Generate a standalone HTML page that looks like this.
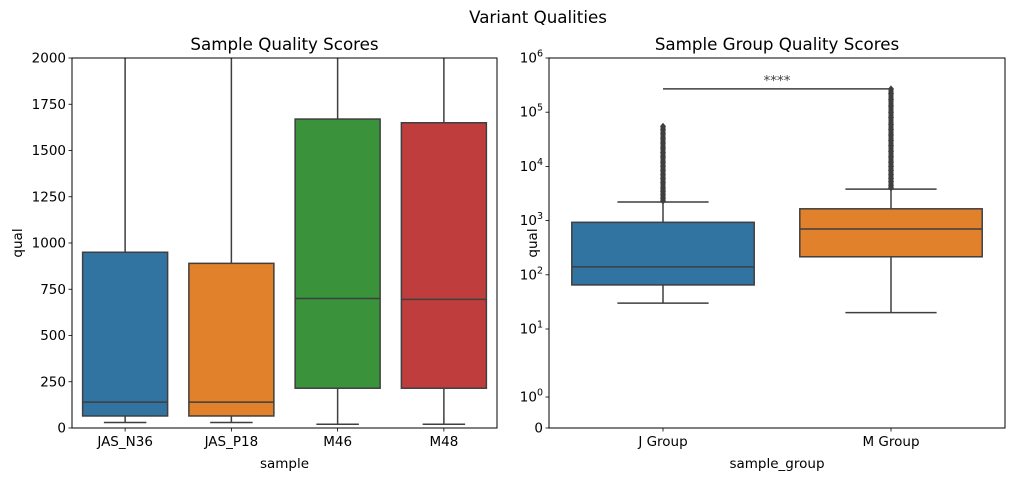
<!DOCTYPE html>
<html><head><meta charset="utf-8"><style>
body{margin:0;background:#fff;}
svg{display:block;font-family:"DejaVu Sans","Liberation Sans",sans-serif;}
</style></head><body>
<svg id="c" width="1014" height="481" viewBox="0 0 1014 481" xmlns="http://www.w3.org/2000/svg">
<rect width="1014" height="481" fill="#fff"/>
<text x="538" y="23" font-size="16.7" text-anchor="middle">Variant Qualities</text>
</svg>
<script>
const leftCats=["JAS_N36","JAS_P18","M46","M48"];
const leftColors=["#3274a1","#e1812c","#3a923a","#c03d3e"];
const leftLow=[30,30,20,20];
const leftQ1=[65,65,215,215];
const leftMed=[140,140,700,695];
const leftQ3=[950,890,1670,1650];
const leftHigh=[2500,2500,2500,2500];
const leftTicks=[0,250,500,750,1000,1250,1500,1750,2000];

const rightCats=["J Group","M Group"];
const rightColors=["#3274a1","#e1812c"];
const rightLow=[30,20];
const rightQ1=[65,215];
const rightMed=[140,700];
const rightQ3=[930,1650];
const rightHigh=[2200,3800];
const rightOutJ=[2300,2600,3000,3500,4000,5000,6000,7000,8500,10000,12000,15000,18000,22000,27000,33000,40000,48000,55000];
const rightOutM=[4000,4500,5200,6000,7000,8500,10000,12000,15000,19000,24000,30000,38000,48000,60000,80000,100000,130000,170000,220000,270000];
const rightTicks=[0,1,10,100,1000,10000,100000,1000000];
const rightTickExp=["","0","1","2","3","4","5","6"];

const svg=document.getElementById('c');
const NS="http://www.w3.org/2000/svg";
function mk(tag,attrs,parent){const e=document.createElementNS(NS,tag);for(const k in attrs)e.setAttribute(k,attrs[k]);(parent||svg).appendChild(e);return e;}
const TS=13.5;
const TT=16.7;

// Left panel
const L={x0:72,x1:497,y0:58,y1:428};
const ly=v=>L.y1-(v/2000)*(L.y1-L.y0);
const lx=i=>L.x0+(i+0.5)*(L.x1-L.x0)/leftCats.length;
const lw=0.8*(L.x1-L.x0)/leftCats.length;
const gL=mk('g',{});


const clipL=mk('clipPath',{id:'clipL'});mk('rect',{x:L.x0,y:L.y0,width:L.x1-L.x0,height:L.y1-L.y0},clipL);
const gLc=mk('g',{'clip-path':'url(#clipL)'},gL);
leftCats.forEach((c,i)=>{
  const cx=lx(i);
  const g=mk('g',{},gLc);
  
  
  mk('line',{x1:cx,x2:cx,y1:ly(leftQ3[i]),y2:ly(leftHigh[i]),stroke:'#3f3f3f','stroke-width':1.5},g);
  mk('line',{x1:cx,x2:cx,y1:ly(leftQ1[i]),y2:ly(leftLow[i]),stroke:'#3f3f3f','stroke-width':1.5},g);
  mk('line',{x1:cx-lw/4,x2:cx+lw/4,y1:ly(leftLow[i]),y2:ly(leftLow[i]),stroke:'#3f3f3f','stroke-width':1.5},g);
  mk('rect',{x:cx-lw/2,y:ly(leftQ3[i]),width:lw,height:ly(leftQ1[i])-ly(leftQ3[i]),fill:leftColors[i],stroke:'#3f3f3f','stroke-width':1.5},g);
  mk('line',{x1:cx-lw/2,x2:cx+lw/2,y1:ly(leftMed[i]),y2:ly(leftMed[i]),stroke:'#3f3f3f','stroke-width':1.5},g);
});
mk('rect',{x:L.x0,y:L.y0,width:L.x1-L.x0,height:L.y1-L.y0,fill:'none',stroke:'#000','stroke-width':1},gL);
leftTicks.forEach(t=>{
  const y=ly(t);
  mk('line',{x1:L.x0-3.5,x2:L.x0,y1:y,y2:y,stroke:'#000','stroke-width':0.8},gL);
  const tx=mk('text',{x:L.x0-6,y:y+4.5,'font-size':TS,'text-anchor':'end'},gL);tx.textContent=t;
  
  
});
leftCats.forEach((c,i)=>{
  const x=lx(i);
  mk('line',{x1:x,x2:x,y1:L.y1,y2:L.y1+3.5,stroke:'#000','stroke-width':0.8},gL);
  const tx=mk('text',{x:x,y:L.y1+18,'font-size':TS,'text-anchor':'middle'},gL);tx.textContent=c;
  
  
});
let t=mk('text',{x:(L.x0+L.x1)/2,y:50,'font-size':TT,'text-anchor':'middle'},gL);t.textContent='Sample Quality Scores';

t=mk('text',{x:(L.x0+L.x1)/2,y:468,'font-size':TS,'text-anchor':'middle'},gL);t.textContent='sample';

t=mk('text',{x:0,y:0,'font-size':TS,'text-anchor':'middle',transform:'translate(22,243) rotate(-90)'},gL);t.textContent='qual';


// Right panel
const R={x0:549,x1:1005,y0:58,y1:428};
function ry(v){
  if(v<=0)return 428;
  if(v<=1)return 428-v*31;
  if(v<=10)return 397-Math.log10(v)*68;
  return 329-(Math.log10(v)-1)*54.2;
}
const rx=i=>R.x0+(i+0.5)*(R.x1-R.x0)/rightCats.length;
const rw=0.8*(R.x1-R.x0)/rightCats.length;
const gR=mk('g',{});


const outs=[rightOutJ,rightOutM];
rightCats.forEach((c,i)=>{
  const cx=rx(i);
  const g=mk('g',{},gR);
  
  
  mk('line',{x1:cx,x2:cx,y1:ry(rightQ3[i]),y2:ry(rightHigh[i]),stroke:'#3f3f3f','stroke-width':1.5},g);
  mk('line',{x1:cx-rw/4,x2:cx+rw/4,y1:ry(rightHigh[i]),y2:ry(rightHigh[i]),stroke:'#3f3f3f','stroke-width':1.5},g);
  mk('line',{x1:cx,x2:cx,y1:ry(rightQ1[i]),y2:ry(rightLow[i]),stroke:'#3f3f3f','stroke-width':1.5},g);
  mk('line',{x1:cx-rw/4,x2:cx+rw/4,y1:ry(rightLow[i]),y2:ry(rightLow[i]),stroke:'#3f3f3f','stroke-width':1.5},g);
  mk('rect',{x:cx-rw/2,y:ry(rightQ3[i]),width:rw,height:ry(rightQ1[i])-ry(rightQ3[i]),fill:rightColors[i],stroke:'#3f3f3f','stroke-width':1.5},g);
  mk('line',{x1:cx-rw/2,x2:cx+rw/2,y1:ry(rightMed[i]),y2:ry(rightMed[i]),stroke:'#3f3f3f','stroke-width':1.5},g);
  const vals=outs[i];
  mk('line',{x1:cx,x2:cx,y1:ry(vals[0]),y2:ry(vals[vals.length-1]),stroke:'#3f3f3f','stroke-width':5}, g);
  vals.forEach(v=>{
    const y=ry(v);
    const d=mk('path',{d:`M${cx} ${y-3.5}L${cx+3} ${y}L${cx} ${y+3.5}L${cx-3} ${y}Z`,fill:'#3f3f3f'},g);
    
    
  });
});
mk('rect',{x:R.x0,y:R.y0,width:R.x1-R.x0,height:R.y1-R.y0,fill:'none',stroke:'#000','stroke-width':1},gR);
rightTicks.forEach((v,k)=>{
  const y=ry(v);
  mk('line',{x1:R.x0-3.5,x2:R.x0,y1:y,y2:y,stroke:'#000','stroke-width':0.8},gR);
  const tx=mk('text',{x:R.x0-6,y:y+4.5,'font-size':TS,'text-anchor':'end'},gR);
  
  
  if(v===0){tx.textContent='0';}
  else{
    const b=document.createElementNS(NS,'tspan');b.textContent='10';tx.appendChild(b);
    const s=document.createElementNS(NS,'tspan');s.setAttribute('dy','-6');s.setAttribute('font-size','9.5');s.textContent=rightTickExp[k];tx.appendChild(s);
  }
});
rightCats.forEach((c,i)=>{
  const x=rx(i);
  mk('line',{x1:x,x2:x,y1:R.y1,y2:R.y1+3.5,stroke:'#000','stroke-width':0.8},gR);
  const tx=mk('text',{x:x,y:R.y1+18,'font-size':TS,'text-anchor':'middle'},gR);tx.textContent=c;
  
  
});
const ann=mk('line',{x1:rx(0),x2:rx(1),y1:ry(270000),y2:ry(270000),stroke:'#3f3f3f','stroke-width':1.5},gR);


t=mk('text',{x:(rx(0)+rx(1))/2,y:ry(270000)-4,'font-size':TS,'text-anchor':'middle',fill:'#3f3f3f'},gR);t.textContent='****';

t=mk('text',{x:(R.x0+R.x1)/2,y:50,'font-size':TT,'text-anchor':'middle'},gR);t.textContent='Sample Group Quality Scores';

t=mk('text',{x:(R.x0+R.x1)/2,y:468,'font-size':TS,'text-anchor':'middle'},gR);t.textContent='sample_group';

t=mk('text',{x:0,y:0,'font-size':TS,'text-anchor':'middle',transform:'translate(537,243) rotate(-90)'},gR);t.textContent='qual';

</script>
</body></html>
